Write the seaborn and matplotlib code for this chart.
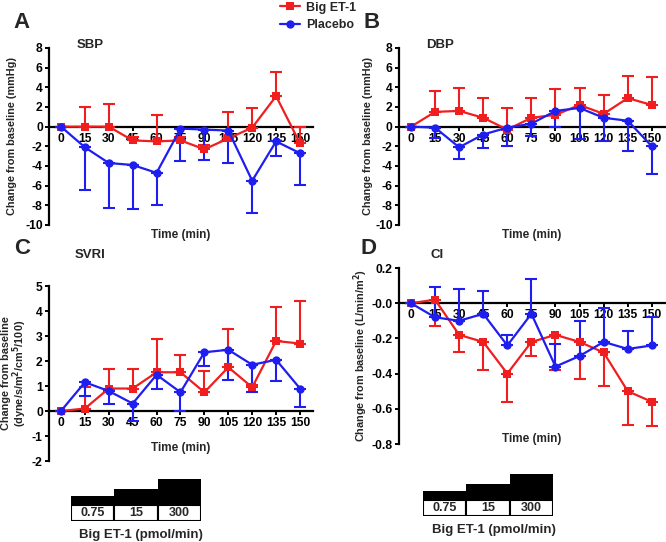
import seaborn as sns
import matplotlib.pyplot as plt
import matplotlib.ticker as mticker
import pandas as pd
import numpy as np

sns.set_style("ticks")
plt.rcParams["font.family"] = ["Liberation Sans", "DejaVu Sans"]
plt.rcParams["font.weight"] = "bold"
plt.rcParams["axes.unicode_minus"] = False

# time points (min)
times = [0, 15, 30, 45, 60, 75, 90, 105, 120, 135, 150]

# SBP (mmHg)
sbp_et1 = [0, 0, 0, -1.4, -1.5, -1.4, -2.3, -1.2, -0.1, 3.1, -1.7]
sbp_et1_err = [0, 2.0, 2.3, 0.3, 2.7, 0.3, 0.4, 2.7, 2.0, 2.5, 1.7]
sbp_pla = [0, -2.1, -3.7, -3.9, -4.7, -0.2, -0.3, -0.4, -5.5, -1.5, -2.7]
sbp_pla_err = [0, 4.3, 4.6, 4.5, 3.3, 3.3, 3.1, 3.3, 3.3, 1.5, 3.2]

# DBP (mmHg)
dbp_et1 = [0, 1.5, 1.6, 0.9, -0.3, 0.9, 1.2, 2.2, 1.3, 2.9, 2.2]
dbp_et1_err = [0, 2.1, 2.3, 2.0, 2.2, 2.0, 2.6, 1.7, 1.9, 2.2, 2.8]
dbp_pla = [0, -0.1, -2.1, -0.8, -0.1, 0.3, 1.6, 1.9, 0.9, 0.6, -2.0]
dbp_pla_err = [0, 1.1, 1.2, 1.4, 1.9, 1.3, 1.6, 3.2, 2.4, 3.1, 2.8]

# SVRI
svri_et1 = [0, 0.1, 0.9, 0.9, 1.55, 1.55, 0.75, 1.75, 0.95, 2.8, 2.7]
svri_et1_err = [0, 0.85, 0.8, 0.8, 1.35, 0.7, 0.85, 1.55, 0.1, 1.35, 1.7]
svri_pla = [0, 1.15, 0.8, 0.3, 1.45, 0.75, 2.35, 2.45, 1.85, 2.05, 0.9]
svri_pla_err = [0, 0.55, 0.5, 0.7, 0.55, 0.75, 0.55, 1.2, 1.1, 0.85, 0.75]

# CI (L/min/m2)
ci_et1 = [0, 0.02, -0.18, -0.22, -0.40, -0.22, -0.18, -0.22, -0.28, -0.50, -0.56]
ci_et1_err = [0, 0.15, 0.10, 0.16, 0.16, 0.08, 0.20, 0.21, 0.19, 0.19, 0.14]
ci_pla = [0, -0.08, -0.10, -0.06, -0.24, -0.06, -0.36, -0.30, -0.22, -0.26, -0.24]
ci_pla_err = [0, 0.17, 0.18, 0.13, 0.06, 0.20, 0.13, 0.20, 0.19, 0.10, 0.16]

doses = ["0.75", "15", "300"]
groups = ["Big ET-1", "Placebo"]
colors = {"Big ET-1": "#f01e1e", "Placebo": "#1e1ef0"}
markers = {"Big ET-1": "s", "Placebo": "o"}

fig = plt.figure(figsize=(6.66, 5.42), dpi=100)

panels = [
    # letter, title, rect, ylim, yticks, ylabel, data, red_up, fmt, label x, title pos, time y
    ("A", "SBP", [0.0736, 0.5849, 0.396, 0.3266], (-10, 8), np.arange(-10, 9, 2),
     "Change from baseline (mmHg)", (sbp_et1, sbp_et1_err, sbp_pla, sbp_pla_err),
     True, "%d", -0.121, (0.155, 1.017), -0.02),
    ("B", "DBP", [0.599, 0.5849, 0.399, 0.3266], (-10, 8), np.arange(-10, 9, 2),
     "Change from baseline (mmHg)", (dbp_et1, dbp_et1_err, dbp_pla, dbp_pla_err),
     True, "%d", -0.098, (0.154, 1.017), -0.02),
    ("C", "SVRI", [0.0736, 0.1494, 0.396, 0.3229], (-2, 5), np.arange(-2, 6, 1),
     "Change from baseline\n(dyne/s/m$^2$/cm$^5$/100)", (svri_et1, svri_et1_err, svri_pla, svri_pla_err),
     True, "%d", -0.075, (0.155, 1.177), 0.11),
    ("D", "CI", [0.599, 0.1808, 0.399, 0.3247], (-0.8, 0.2), np.arange(-0.8, 0.21, 0.2),
     "Change from baseline (L/min/m$^2$)", (ci_et1, ci_et1_err, ci_pla, ci_pla_err),
     False, "%.1f", -0.108, (0.143, 1.074), 0.06),
]

letter_pos = {"A": (22, 23), "B": (372, 22), "C": (22, 248), "D": (368, 248)}

for letter, title, rect, ylim, yticks, ylabel, vals, red_up, fmt, labx, tpos, ty in panels:
    ax = fig.add_axes(rect)
    et1, et1_err, pla, pla_err = vals
    df = pd.DataFrame({
        "time": times * 2,
        "value": list(et1) + list(pla),
        "group": ["Big ET-1"] * len(times) + ["Placebo"] * len(times),
    })
    sns.lineplot(data=df, x="time", y="value", hue="group", style="group",
                 palette=colors, markers=markers, dashes=False, markersize=6,
                 markeredgewidth=0, linewidth=1.6, legend=False, ax=ax, zorder=3)
    zeros = np.zeros(len(times))
    if red_up:
        red_yerr = [zeros, et1_err]
        blue_yerr = [pla_err, zeros]
    else:
        red_yerr = [et1_err, zeros]
        blue_yerr = [zeros, pla_err]
    ax.errorbar(times, et1, yerr=red_yerr, fmt="none", ecolor=colors["Big ET-1"],
                elinewidth=1.5, capsize=4, capthick=1.5, zorder=2)
    ax.errorbar(times, pla, yerr=blue_yerr, fmt="none", ecolor=colors["Placebo"],
                elinewidth=1.5, capsize=4, capthick=1.5, zorder=2)

    ax.set_xlim(-7.5, 158)
    ax.set_ylim(*ylim)
    ax.set_yticks(yticks)
    ax.yaxis.set_major_formatter(mticker.FormatStrFormatter(fmt))
    ax.set_xticks(times)
    ax.spines["top"].set_visible(False)
    ax.spines["right"].set_visible(False)
    ax.spines["bottom"].set_position(("data", 0))
    ax.spines["bottom"].set_zorder(1)
    for s in ["left", "bottom"]:
        ax.spines[s].set_linewidth(1.6)
        ax.spines[s].set_color("black")
    ax.tick_params(axis="both", labelsize=8.7, width=1.4, length=3, pad=1.5,
                   colors="black")
    for t in ax.get_xticklabels() + ax.get_yticklabels():
        t.set_fontweight("bold")
    ax.set_xlabel("")
    ax.set_ylabel(ylabel, fontsize=7.8, fontweight="bold", linespacing=1.0)
    ax.yaxis.set_label_coords(labx, 0.5)
    ax.text(0.5, ty, "Time (min)", transform=ax.transAxes, ha="center", va="top",
            fontsize=8.5, fontweight="bold")
    ax.text(tpos[0], tpos[1], title, transform=ax.transAxes, ha="center",
            va="center", fontsize=9.5, fontweight="bold")
    lx, ly = letter_pos[letter]
    fig.text(lx / 666, 1 - ly / 542, letter, ha="center", va="center",
             fontsize=16, fontweight="bold")

# legend
handles = [plt.Line2D([], [], color=colors[g], marker=markers[g], markersize=6,
                      markeredgewidth=0, linewidth=1.6) for g in groups]
leg = fig.legend(handles, groups, loc="upper left", bbox_to_anchor=(0.418, 0.999),
                 frameon=False, fontsize=9, handlelength=1.6, handletextpad=0.5,
                 labelspacing=0.45, borderaxespad=0, borderpad=0.1)
for t in leg.get_texts():
    t.set_fontweight("bold")

# dose step diagrams
step_h = [9, 16, 26]
box_h = 16
for x0, ytop, textc in [(71, 479, 141), (423, 474, 494)]:
    dax = fig.add_axes([x0 / 666, 1 - (ytop + 42) / 542, 130 / 666, 42 / 542])
    dax.bar(range(3), step_h, bottom=box_h, width=1, align="edge",
            color="black", linewidth=0)
    dax.bar(range(3), [box_h] * 3, width=1, align="edge", facecolor="white",
            edgecolor="black", linewidth=1.5)
    for i, d in enumerate(doses):
        dax.text(i + 0.5, box_h / 2, d, ha="center", va="center",
                 fontsize=9, fontweight="bold")
    dax.set_xlim(0, 3)
    dax.set_ylim(0, 42)
    dax.axis("off")
    fig.text(textc / 666, 1 - (ytop + 56) / 542, "Big ET-1 (pmol/min)",
             ha="center", va="center", fontsize=9.5, fontweight="bold")

fig.savefig("out.png", dpi=100)
plt.close(fig)
